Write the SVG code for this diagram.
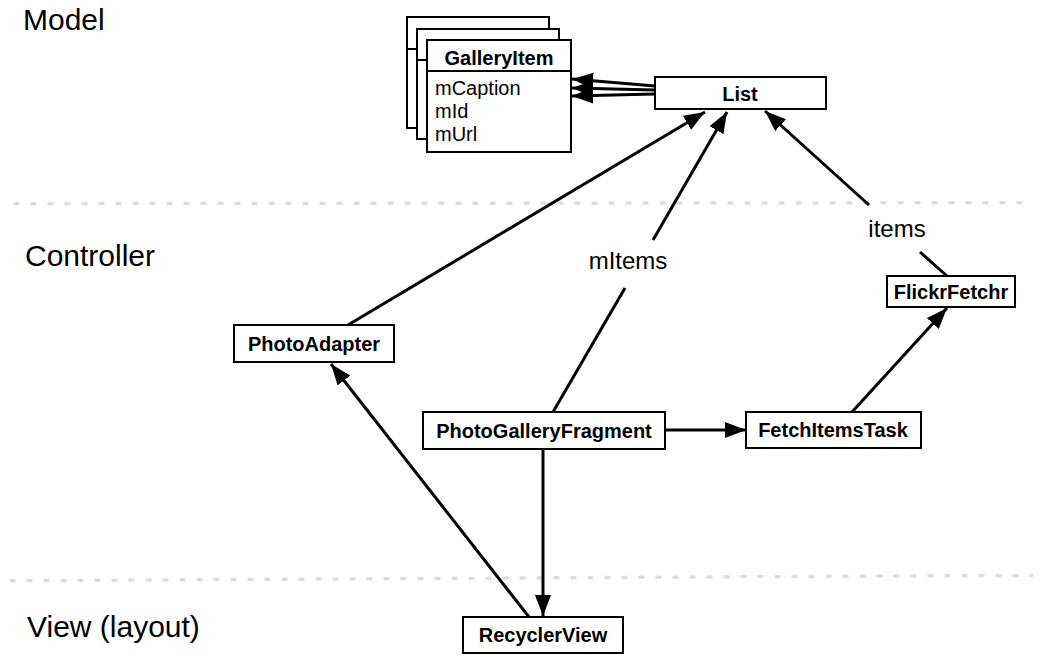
<svg xmlns="http://www.w3.org/2000/svg" width="1044" height="655" viewBox="0 0 1044 655">
<defs>
<marker id="ah" markerUnits="userSpaceOnUse" markerWidth="22" markerHeight="17" refX="21" refY="8" orient="auto">
<path d="M0,0 L21,8 L0,16 z" fill="#000"/>
</marker>
<style>
.box{fill:#fff;stroke:#000;stroke-width:2}
.div{stroke:#000;stroke-width:2}
.nt{font-family:"Liberation Sans",Arial,sans-serif;font-weight:bold;font-size:20px;fill:#000;text-anchor:middle}
.ft{font-family:"Liberation Sans",Arial,sans-serif;font-size:20px;fill:#000}
.region{font-family:"Liberation Sans",Arial,sans-serif;font-size:30px;fill:#000}
.lbl{font-family:"Liberation Sans",Arial,sans-serif;font-size:24px;fill:#000;text-anchor:middle}
.sep{stroke:#dcdcdc;stroke-width:3.5;stroke-linecap:round;stroke-dasharray:3 14;fill:none}
.edge{stroke:#000;stroke-width:3;fill:none;marker-end:url(#ah)}
</style>
</defs>
<rect width="1044" height="655" fill="#fff"/>
<g id="separators">
<line class="sep" x1="15" y1="203.7" x2="1033" y2="202.7"/>
<line class="sep" x1="11" y1="580.7" x2="1032" y2="575.3"/>
</g>
<g id="regions">
<text class="region" x="23" y="30">Model</text>
<text class="region" x="25" y="266">Controller</text>
<text class="region" x="27" y="637">View (layout)</text>
</g>
<g id="galleryitem-back2">
<rect class="box" x="407" y="17" width="142" height="111"/>
<line class="div" x1="407" y1="49" x2="549" y2="49"/>
</g>
<g id="galleryitem-back1">
<rect class="box" x="417" y="29" width="142" height="110"/>
<line class="div" x1="417" y1="60" x2="559" y2="60"/>
</g>
<g id="galleryitem">
<rect class="box" x="427" y="40" width="144" height="112"/>
<line class="div" x1="427" y1="71" x2="571" y2="71"/>
<text class="nt" x="499" y="65">GalleryItem</text>
<text class="ft" x="435" y="95">mCaption</text>
<text class="ft" x="435" y="118">mId</text>
<text class="ft" x="435" y="141">mUrl</text>
</g>
<g id="list">
<rect class="box" x="655" y="77" width="171" height="32"/>
<text class="nt" x="740" y="101">List</text>
</g>
<g id="photoadapter">
<rect class="box" x="234" y="325" width="160" height="37"/>
<text class="nt" x="314" y="351">PhotoAdapter</text>
</g>
<g id="photogalleryfragment">
<rect class="box" x="423" y="412" width="242" height="37"/>
<text class="nt" x="544" y="438">PhotoGalleryFragment</text>
</g>
<g id="fetchitemstask">
<rect class="box" x="746" y="412" width="175" height="36"/>
<text class="nt" x="833" y="437">FetchItemsTask</text>
</g>
<g id="flickrfetchr">
<rect class="box" x="887" y="276" width="128" height="31"/>
<text class="nt" x="951" y="299">FlickrFetchr</text>
</g>
<g id="recyclerview">
<rect class="box" x="463" y="617" width="160" height="36"/>
<text class="nt" x="543" y="642">RecyclerView</text>
</g>
<g id="connectors">
<path class="edge" d="M655,86 L572,79"/>
<path class="edge" d="M655,90 L572,88"/>
<path class="edge" d="M655,94 L572,96"/>
<path class="edge" d="M348,325 L705,112"/>
<path class="edge" d="M553,412 L625,288 M653,240 L727,112"/>
<text class="lbl" x="628" y="269">mItems</text>
<path class="edge" d="M947,276 L920,252 M869,205 L765,111"/>
<text class="lbl" x="897" y="237">items</text>
<path class="edge" d="M665,430 L746,430"/>
<path class="edge" d="M852,412 L947,308"/>
<path class="edge" d="M543,449 L543,616"/>
<path class="edge" d="M529,617 L331,364"/>
</g>
</svg>
